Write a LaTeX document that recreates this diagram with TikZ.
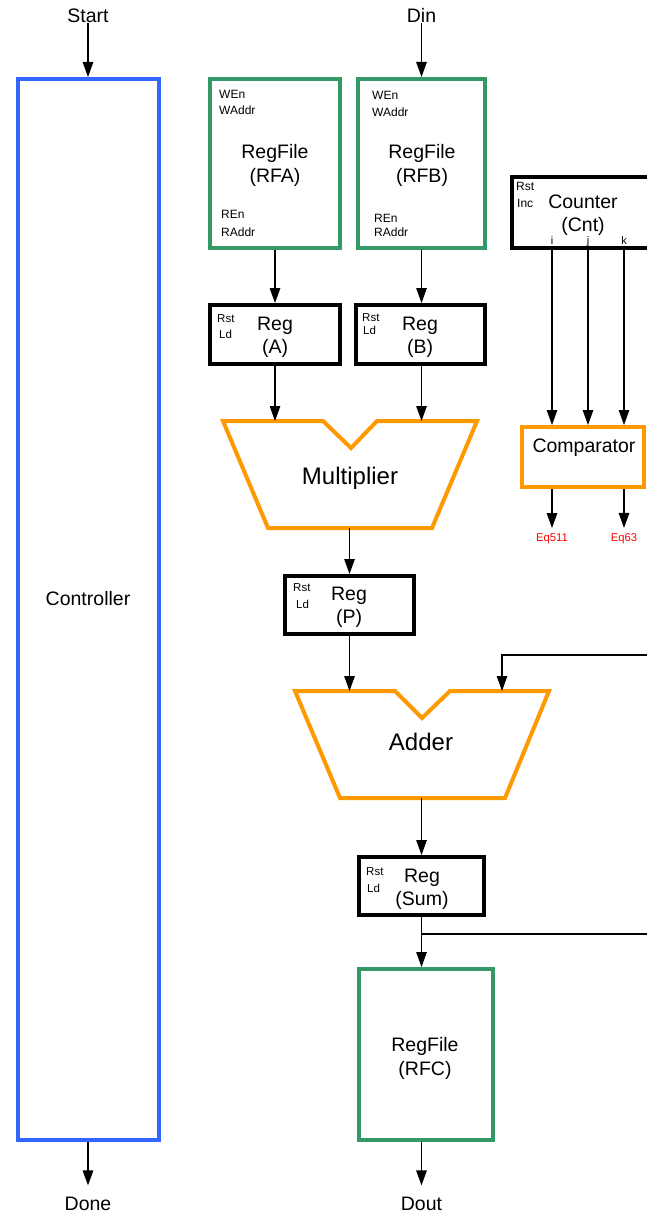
\documentclass[tikz,border=0pt]{standalone}
\usepackage{fontspec}
\setmainfont{Liberation Sans}
\usetikzlibrary{arrows.meta}
\definecolor{ctlblue}{RGB}{51,102,255}
\definecolor{rfgreen}{RGB}{51,153,102}
\definecolor{fuorange}{RGB}{255,153,0}
\definecolor{eqred}{RGB}{255,0,0}
\tikzset{
  blk/.style={draw=black, line width=4pt, fill=white, inner sep=0pt},
  grn/.style={draw=rfgreen, line width=4pt, fill=white, inner sep=0pt},
  blu/.style={draw=ctlblue, line width=4pt, fill=white, inner sep=0pt},
  org/.style={draw=fuorange, line width=4pt, fill=white, inner sep=0pt},
  fu/.style={draw=fuorange, line width=4pt, fill=white, line join=miter},
  lbl/.style={inner sep=0pt, anchor=base, font=\fontsize{19.5}{20}\selectfont},
  big/.style={inner sep=0pt, anchor=base, font=\fontsize{24}{26}\selectfont},
  sml/.style={inner sep=0pt, anchor=base west, font=\fontsize{12}{12}\selectfont},
  tny/.style={inner sep=0pt, anchor=base west, font=\fontsize{11.5}{12}\selectfont},
  idx/.style={inner sep=0pt, anchor=base, font=\fontsize{11}{12}\selectfont},
  eq/.style={inner sep=0pt, anchor=base, text=eqred, font=\fontsize{11.3}{12}\selectfont},
  ln/.style={line width=1.3pt, draw=black},
  arr/.style={ln, -{Triangle[length=15pt,width=10.5pt]}},
}
\begin{document}
\begin{tikzpicture}[x=1pt, y=-1pt]
\useasboundingbox (0,0) rectangle (647,1212);
\clip (0,0) rectangle (647,1212);
\fill[white] (0,0) rectangle (647,1212);

% Controller
\node[blu, minimum width=141pt, minimum height=1061pt] (ctrl) at (88.5,609.5) {};
\node[lbl] (ctltxt) at (88,605) {Controller};
\node[lbl] (start) at (88,23) {Start};
\node[lbl] (done) at (88,1210) {Done};
\draw[arr] (start.south) -- (start.south |- ctrl.north);
\draw[arr] (ctrl.south -| done.north) -- ([yshift=11pt]done.north);

% RegFile A
\node[grn, minimum width=130pt, minimum height=169pt] (rfa) at (275,163.5) {};
\node[sml] (rfawen) at (219,99) {WEn};
\node[sml] (rfawad) at (219,114) {WAddr};
\node[lbl] (rfat1) at (275,158) {RegFile};
\node[lbl] (rfat2) at (275,182.5) {(RFA)};
\node[sml] (rfaren) at (221,218) {REn};
\node[sml] (rfarad) at (221,236) {RAddr};

% RegFile B
\node[lbl] (din) at (421.5,23) {Din};
\node[grn, minimum width=127pt, minimum height=169pt] (rfb) at (421.5,163.5) {};
\node[sml] (rfbwen) at (372,100) {WEn};
\node[sml] (rfbwad) at (372,117) {WAddr};
\node[lbl] (rfbt1) at (422,158) {RegFile};
\node[lbl] (rfbt2) at (422,182.5) {(RFB)};
\node[sml] (rfbren) at (374,222) {REn};
\node[sml] (rfbrad) at (374,236) {RAddr};
\draw[arr] (din.south) -- (din.south |- rfb.north);

% Reg A / Reg B
\node[blk, minimum width=130pt, minimum height=59pt] (rega) at (275,334.5) {};
\node[tny] (regarst) at (217,322) {Rst};
\node[tny] (regald) at (219,338) {Ld};
\node[lbl] (regat1) at (275,330) {Reg};
\node[lbl] (regat2) at (275,353) {(A)};
\node[blk, minimum width=129pt, minimum height=59pt] (regb) at (420.5,334.5) {};
\node[tny] (regbrst) at (362,321) {Rst};
\node[tny] (regbld) at (363,334) {Ld};
\node[lbl] (regbt1) at (420,330) {Reg};
\node[lbl] (regbt2) at (420,353) {(B)};
\draw[arr] (rfa.south) -- (rega.north);
\draw[arr] (rfb.south) -- (rfb.south |- regb.north);

% Multiplier
\draw[fu] (223,421) -- (323,421) -- (351,448) -- (377,421) -- (477,421) -- (432,528) -- (268,528) -- cycle;
\node[big] (mul) at (350,484) {Multiplier};
\coordinate (mula) at (275,421);
\coordinate (mulb) at (421.5,421);
\coordinate (mulo) at (349.5,528);
\draw[arr] (rega.south) -- (mula);
\draw[arr] (rfb.south |- regb.south) -- (mulb);

% Reg P
\node[blk, minimum width=129pt, minimum height=58pt] (regp) at (349.5,605) {};
\node[tny] (regprst) at (293,591) {Rst};
\node[tny] (regpld) at (296,608) {Ld};
\node[lbl] (regpt1) at (349,600) {Reg};
\node[lbl] (regpt2) at (349,623) {(P)};
\draw[arr] (mulo) -- (regp.north);

% Adder
\draw[fu] (295,691) -- (395,691) -- (422,718) -- (450,691) -- (549,691) -- (505,798) -- (340,798) -- cycle;
\node[big] (add) at (421,750) {Adder};
\coordinate (adda) at (349.5,691);
\coordinate (addb) at (502,691);
\coordinate (addo) at (421.5,798);
\coordinate (fbr) at (650,655);
\draw[arr] (regp.south) -- (adda);
\draw[arr] (fbr) -| (addb);

% Reg Sum
\node[blk, minimum width=125pt, minimum height=58pt] (regs) at (421.5,886) {};
\node[tny] (regsrst) at (366,875) {Rst};
\node[tny] (regsld) at (367,892) {Ld};
\node[lbl] (regst1) at (422,882) {Reg};
\node[lbl] (regst2) at (422,905) {(Sum)};
\draw[arr] (addo) -- (regs.north);

% RegFile C
\node[grn, minimum width=134pt, minimum height=171pt] (rfc) at (426,1054.5) {};
\node[lbl] (rfct1) at (425,1051) {RegFile};
\node[lbl] (rfct2) at (425,1075) {(RFC)};
\node[lbl] (dout) at (421.5,1210) {Dout};
\coordinate (br) at (421.5,934);
\coordinate (brr) at (650,934);
\draw[arr] (regs.south) -- (regs.south |- rfc.north);
\draw[ln] (br) -- (brr);
\draw[arr] (rfc.south -| dout.north) -- ([yshift=11pt]dout.north);

% Counter
\node[blk, minimum width=148pt, minimum height=71pt] (cnt) at (586,212.5) {};
\node[sml] (cntrst) at (516,190) {Rst};
\node[sml] (cntinc) at (517,207) {Inc};
\node[lbl] (cntt1) at (583,208) {Counter};
\node[lbl] (cntt2) at (583,231) {(Cnt)};
\node[idx] (ci) at (552,244) {i};
\node[idx] (cj) at (588,244) {j};
\node[idx] (ck) at (624,244) {k};

% Comparator
\node[org, minimum width=122pt, minimum height=60pt] (cmp) at (583,457) {};
\node[lbl] (cmpt) at (584,452) {Comparator};
\draw[arr] (ci |- cnt.south) -- (ci |- cmp.north);
\draw[arr] (cj |- cnt.south) -- (cj |- cmp.north);
\draw[arr] (ck |- cnt.south) -- (ck |- cmp.north);
\node[eq] (eq511) at (552,541) {Eq511};
\node[eq] (eq63) at (624,541) {Eq63};
\draw[arr] (cmp.south -| eq511.north) -- ([yshift=5pt]eq511.north);
\draw[arr] (cmp.south -| eq63.north) -- ([yshift=5pt]eq63.north);
\end{tikzpicture}
\end{document}
